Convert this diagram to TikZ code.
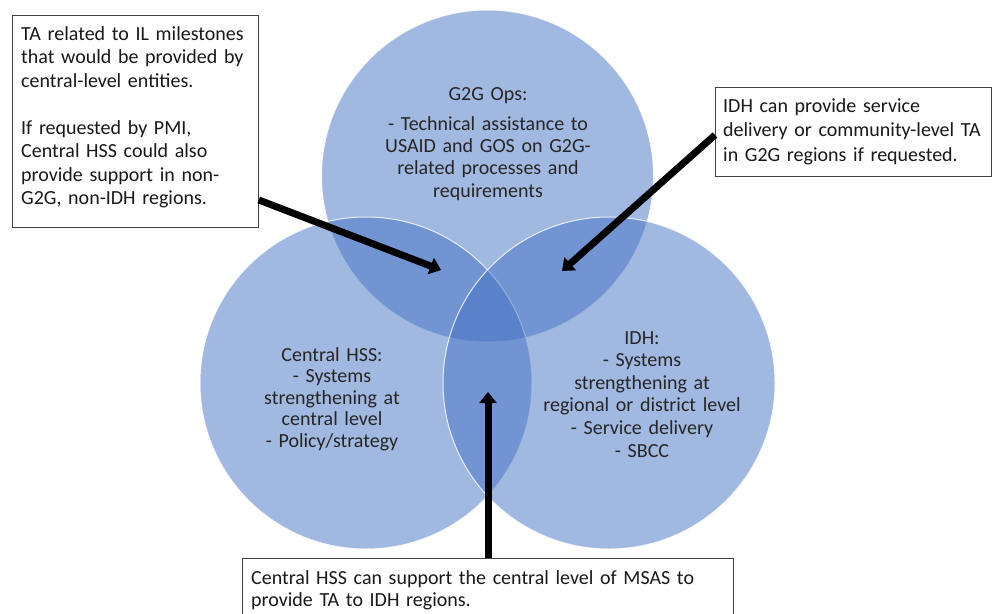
\documentclass[tikz,border=0pt]{standalone}
\usepackage{fontspec}
\setmainfont{Carlito}
\usetikzlibrary{arrows.meta}
\definecolor{vblue}{HTML}{4472C4}
\definecolor{txt}{HTML}{262626}
\begin{document}
\begin{tikzpicture}[x=1pt,y=-1pt,
  venn/.style={circle, fill=vblue, fill opacity=0.5, draw=white, draw opacity=0.8, line width=1pt, minimum size=332pt, inner sep=0pt},
  note/.style={draw=black!75, line width=0.8pt, fill=white, anchor=north west, inner sep=0pt},
  vtext/.style={text=txt, align=center, text width=260pt, anchor=base, inner sep=0pt},
  ntext/.style={text=black!90, align=left, anchor=base west, inner sep=0pt},
  arr/.style={draw=black, line width=7pt, -{Triangle[width=17pt,length=11pt]}}]
\useasboundingbox (0,0) rectangle (993,613);
\fill[white] (0,0) rectangle (993,613);
% circles
\node[venn] (ctop) at (487.5,176) {};
\node[venn] (cleft) at (366,383) {};
\node[venn] (cright) at (609,383) {};
% circle texts
\node[vtext, font=\fontsize{20}{22.3}\selectfont] (ttop) at (488,100)
  {G2G Ops:\\[8pt]- Technical assistance to\\USAID and GOS on G2G-\\related processes and\\requirements};
\node[vtext, font=\fontsize{20}{21.5}\selectfont] (tleft) at (332,361)
  {Central HSS:\\- Systems\\strengthening at\\central level\\- Policy/strategy};
\node[vtext, font=\fontsize{20}{22.6}\selectfont] (tright) at (642,344)
  {IDH:\\- Systems\\strengthening at\\regional or district level\\- Service delivery\\- SBCC};
% boxes
\node[note, minimum width=246pt, minimum height=212pt] (b1) at (12,15) {};
\node[ntext, text width=236pt, font=\fontsize{20}{23.5}\selectfont] (n1) at (21,40)
  {TA related to IL milestones\\that would be provided by\\central-level entities.\\[23.5pt]If requested by PMI,\\Central HSS could also\\provide support in non-\\G2G, non-IDH regions.};
\node[note, minimum width=276pt, minimum height=89pt] (b2) at (715,87) {};
\node[ntext, text width=268pt, font=\fontsize{20}{24.5}\selectfont] (n2) at (723,112)
  {IDH can provide service\\delivery or community-level TA\\in G2G regions if requested.};
\node[note, minimum width=491pt, minimum height=70pt] (b3) at (242,558) {};
\node[ntext, text width=480pt, font=\fontsize{20}{22.5}\selectfont] (n3) at (251,584)
  {Central HSS can support the central level of MSAS to\\provide TA to IDH regions.};
% arrows
\coordinate (t1) at (441,270);
\coordinate (t2) at (562,271);
\coordinate (t3) at (488,392);
\draw[arr] (b1.east |- 0,200) -- (t1);
\draw[arr] (b2.west |- 0,135) -- (t2);
\draw[arr] (b3.north -| t3) -- (t3);
\end{tikzpicture}
\end{document}
